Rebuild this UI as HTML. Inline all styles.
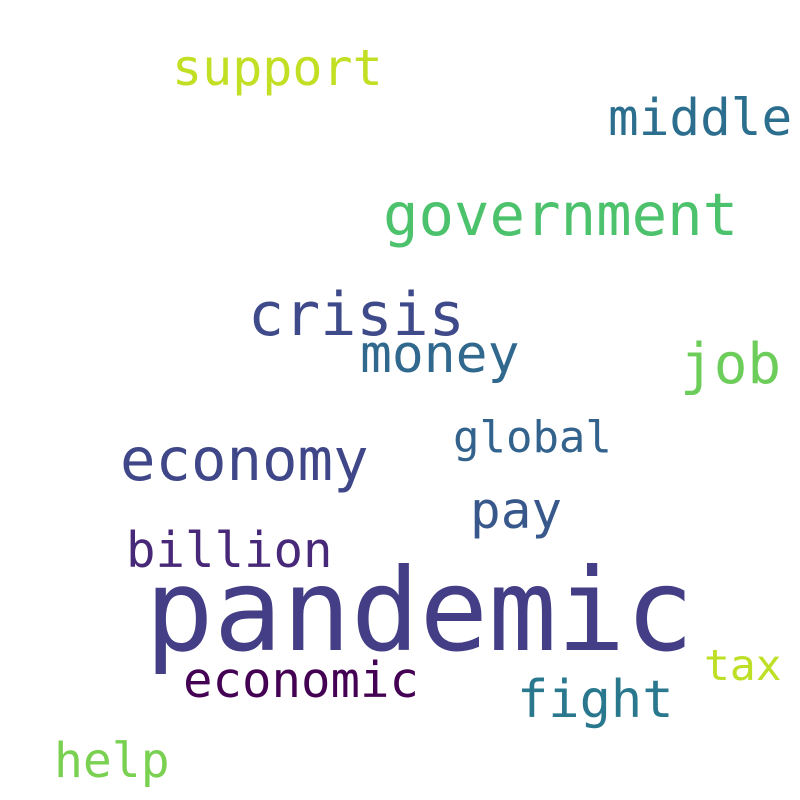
<!DOCTYPE html>
<html>
<head>
<meta charset="utf-8">
<style>
  html, body { margin: 0; padding: 0; background: #ffffff; }
  svg { display: block; }
  text { font-family: "DejaVu Sans Mono", "Liberation Mono", monospace; }
</style>
</head>
<body>
<svg id="cloud" width="800" height="800" viewBox="0 0 800 800" xmlns="http://www.w3.org/2000/svg">
  <rect x="0" y="0" width="800" height="800" fill="#ffffff"/>
</svg>
<script>
const words = ["support","middle","government","crisis","money","job","global","economy","pay","billion","pandemic","tax","economic","fight","help"];
const sizes = [50,51,59,60,53,56,44,59,51,49,114,43,49,52,48];
const colors = ["#c2df23","#2c6e8e","#4cc26c","#3e4a89","#31688e","#6ccd5a","#33638d","#3f4788","#38588c","#482878","#433e85","#bddf26","#440154","#2a788e","#7ad151"];
const xs = [172,608,383,248,360,680,453,120,470,126,145,704,183,517,54];
const ys = [85,135,235,335,372,383,452,480,528,567,650,680,697,717,777];

const svg = document.getElementById('cloud');
for (let i = 0; i < words.length; i++) {
  const t = document.createElementNS('http://www.w3.org/2000/svg', 'text');
  
  
  t.setAttribute('x', xs[i]);
  t.setAttribute('y', ys[i]);
  t.setAttribute('font-size', sizes[i]);
  t.setAttribute('fill', colors[i]);
  t.setAttribute('textLength', (sizes[i] * 0.602 * words[i].length).toFixed(1));
  t.textContent = words[i];
  svg.appendChild(t);
}
</script>
</body>
</html>
